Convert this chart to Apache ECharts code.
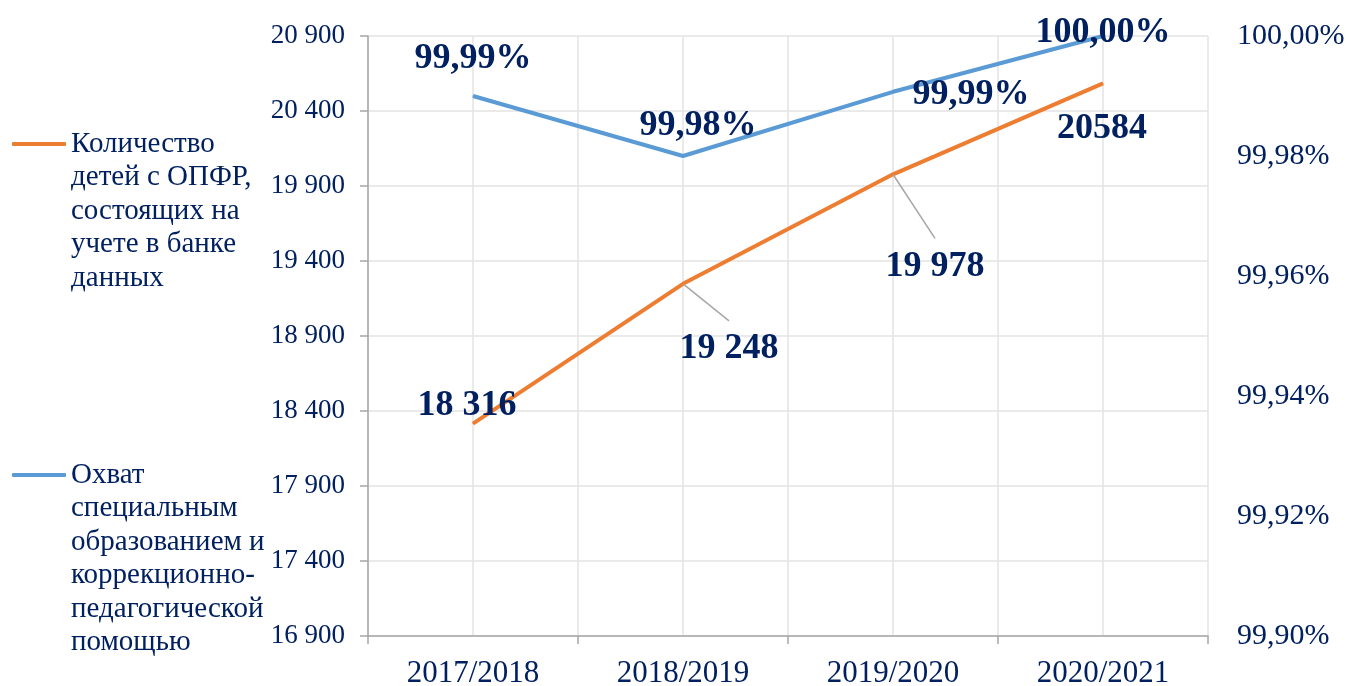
<!DOCTYPE html>
<html>
<head>
<meta charset="utf-8">
<title>Дети с ОПФР</title>
<script src="https://cdn.jsdelivr.net/npm/echarts@6/dist/echarts.min.js"></script>
<style>
  html, body { margin: 0; padding: 0; background: #fff; }
  #chart { width: 1350px; height: 686px; }
</style>
</head>
<body>
<div id="chart"></div>
<script>
const categories = ['2017/2018', '2018/2019', '2019/2020', '2020/2021'];
const childrenCount = [18316, 19248, 19978, 20584];
const childrenLabels = ['18 316', '19 248', '19 978', '20584'];
const coverage = [99.99, 99.98, 99.9907, 100.00];

const countName = 'Количество\nдетей с ОПФР,\nсостоящих на\nучете в банке\nданных';
const coverageName = 'Охват\nспециальным\nобразованием и\nкоррекционно-\nпедагогической\nпомощью';

const leftMin = 16900, leftMax = 20900, leftStep = 500;
const rightMin = 99.90, rightMax = 100.00, rightStep = 0.02;

const navy = '#002060';
const serif = 'Liberation Serif, Times New Roman, serif';

// where each value label sits relative to its point
const countShift = [[-6, -18], [46, 65], [42, 92], [-1, 45]];
const coverageShift = [[0, -37], [15, -30], [78, 3], [0, -3]];

const chart = echarts.init(document.getElementById('chart'));

const lh = 33.5;
// the icon sits at the middle of the text block, so blank lines are put
// before the name to bring its first line level with the icon
function legendBox(name, iconY) {
  const n = name.split('\n').length;
  return {
    data: [name],
    orient: 'vertical',
    left: 12,
    top: iconY - (2 * n - 1) * lh / 2,
    padding: 0,
    icon: 'roundRect',
    itemWidth: 54,
    itemHeight: 4,
    formatter: s => '\n'.repeat(n - 1) + s,
    textStyle: {
      color: navy,
      fontFamily: serif,
      fontSize: 29,
      lineHeight: lh
    }
  };
}

const option = {
  animation: false,
  legend: [
    legendBox(countName, 144),
    legendBox(coverageName, 475)
  ],
  grid: { left: 368, right: 142, top: 36, bottom: 50, outerBoundsMode: 'none' },
  xAxis: [
    {
      type: 'category',
      data: categories,
      boundaryGap: true,
      axisLine: { lineStyle: { color: '#a6a6a6', width: 1.5 } },
      axisTick: { show: true, length: 8, lineStyle: { color: '#a6a6a6', width: 1.5 } },
      splitLine: { show: false },
      axisLabel: { color: navy, fontFamily: serif, fontSize: 31, margin: 22 }
    },
    {
      type: 'value',
      min: 0, max: 8, interval: 1,
      position: 'bottom',
      axisLine: { show: false },
      axisTick: { show: false },
      axisLabel: { show: false },
      splitLine: { show: true, lineStyle: { color: '#e3e3e3', width: 1.5 } }
    }
  ],
  yAxis: [
    {
      type: 'value',
      min: leftMin, max: leftMax, interval: leftStep,
      axisLine: { show: true, lineStyle: { color: '#a6a6a6', width: 1.5 } },
      axisTick: { show: true, length: 8, lineStyle: { color: '#a6a6a6', width: 1.5 } },
      splitLine: { show: true, lineStyle: { color: '#e3e3e3', width: 1.5 } },
      axisLabel: {
        color: navy, fontFamily: serif, fontSize: 27, margin: 23,
        formatter: v => String(v).replace(/\B(?=(\d{3})+(?!\d))/g, ' ')
      }
    },
    {
      type: 'value',
      position: 'right',
      min: rightMin, max: rightMax, interval: rightStep,
      axisLine: { show: false },
      axisTick: { show: false },
      splitLine: { show: false },
      axisLabel: {
        color: navy, fontFamily: serif, fontSize: 30, margin: 29,
        formatter: v => v.toFixed(2).replace('.', ',') + '%'
      }
    }
  ],
  series: [
    {
      name: countName,
      type: 'line',
      xAxisIndex: 0,
      yAxisIndex: 0,
      data: childrenCount.map((v, i) => ({
        value: v,
        labelLine: { show: i === 1 || i === 2 }
      })),
      symbol: 'circle',
      symbolSize: 1,
      lineStyle: { color: '#ED7D31', width: 4 },
      itemStyle: { color: '#ED7D31' },
      label: {
        show: true,
        position: 'inside',
        color: navy,
        fontFamily: serif,
        fontSize: 36,
        fontWeight: 'bold',
        lineHeight: 56,
        formatter: p => childrenLabels[p.dataIndex]
      },
      labelLine: { show: false, lineStyle: { color: '#a6a6a6', width: 1.5 } },
      labelLayout: p => ({ dx: countShift[p.dataIndex][0], dy: countShift[p.dataIndex][1] })
    },
    {
      name: coverageName,
      type: 'line',
      xAxisIndex: 0,
      yAxisIndex: 1,
      data: coverage,
      symbol: 'circle',
      symbolSize: 1,
      lineStyle: { color: '#5B9BD5', width: 4 },
      itemStyle: { color: '#5B9BD5' },
      label: {
        show: true,
        position: 'inside',
        color: navy,
        fontFamily: serif,
        fontSize: 36,
        fontWeight: 'bold',
        formatter: p => p.value.toFixed(2).replace('.', ',') + '%'
      },
      labelLayout: p => ({ dx: coverageShift[p.dataIndex][0], dy: coverageShift[p.dataIndex][1] })
    }
  ]
};

chart.setOption(option);
</script>
</body>
</html>
